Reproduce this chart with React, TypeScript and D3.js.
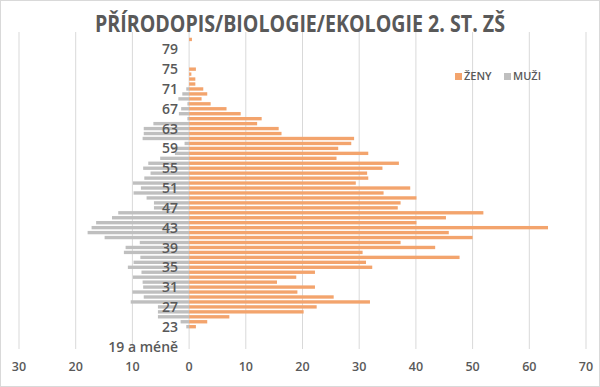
import React from 'react';
import * as d3 from 'd3';

// věkové kategorie: "19 a méně", 20 ... 82
const ages: string[] = ['19 a méně', ...d3.range(20, 83).map(String)];

const zeny: number[] = [
  0, 0, 0, 0, 1.2, 3.2, 7.1, 20.2, 22.5, 31.9,
  25.5, 19.1, 22.2, 15.5, 18.9, 22.2, 32.3, 31.2, 47.7, 30.6,
  43.4, 37.3, 50.0, 45.8, 63.3, 40.1, 45.3, 51.9, 36.8, 37.3,
  40.1, 34.3, 39.0, 29.4, 31.6, 31.4, 34.1, 37.0, 26.0, 31.6,
  26.3, 28.6, 29.1, 16.3, 15.8, 12.0, 12.8, 9.1, 6.6, 3.8,
  2.2, 3.2, 2.5, 1.1, 1.1, 0.4, 1.2, 0, 0, 0,
  0, 0, 0.5, 0,
];

const muzi: number[] = [
  0, 0, 0, 0, 0.5, 1.5, 5.5, 5.5, 5.5, 10.3,
  8.0, 10.0, 8.1, 8.2, 9.9, 8.4, 10.8, 9.8, 8.6, 11.5,
  11.2, 8.7, 14.9, 17.9, 17.2, 16.4, 13.6, 12.5, 6.2, 6.2,
  7.5, 9.8, 8.5, 9.9, 7.9, 6.8, 8.1, 7.2, 5.1, 2.5,
  3.0, 0.8, 8.2, 8.0, 8.0, 6.3, 0.3, 1.8, 1.4, 0.3,
  1.9, 1.2, 0.5, 0, 0, 0, 0, 0, 0, 0,
  0, 0, 0, 0,
];

const xTicks: number[] = [-30, -20, -10, 0, 10, 20, 30, 40, 50, 60, 70];

const title = 'PŘÍRODOPIS/BIOLOGIE/EKOLOGIE 2. ST. ZŠ';
const W = 600, H = 387;
const ORANGE = '#F3A46D';
const GREY = '#BFBFBF';
const TEXT = '#595959';
const FONT = '"Open Sans", "Noto Sans", sans-serif';

const App: React.FC = () => {
  const x = d3.scaleLinear().domain([-30, 70]).range([19, 586]);
  const y = d3.scaleBand<string>()
    .domain([...ages].reverse())
    .range([32, 349])
    .paddingInner(0.32)
    .paddingOuter(0.16);

  return (
    <svg width={W} height={H} style={{ position: 'absolute', left: 0, top: 0, background: '#fff' }}>
      <rect x={0.5} y={0.5} width={W - 1} height={H - 1} fill="#fff" stroke="#d9d9d9" />
      <text x={300} y={32} textAnchor="middle" fill={TEXT} fontFamily={FONT}
        fontWeight={700} fontSize={23} textLength={410} lengthAdjust="spacingAndGlyphs">{title}</text>

      {/* mřížka */}
      {xTicks.map(t => (
        <line key={'g' + t} x1={x(t)} x2={x(t)} y1={32} y2={349} stroke="#d9d9d9" strokeWidth={1} />
      ))}

      {/* muži vlevo */}
      {ages.map((a, i) => (
        <rect key={'m' + a} x={x(-muzi[i])} y={y(a)} width={x(0) - x(-muzi[i])}
          height={y.bandwidth()} fill={GREY} />
      ))}
      {/* ženy vpravo */}
      {ages.map((a, i) => (
        <rect key={'z' + a} x={x(0)} y={y(a)} width={x(zeny[i]) - x(0)}
          height={y.bandwidth()} fill={ORANGE} />
      ))}

      {/* popisky věku */}
      {ages.filter((_, i) => i % 4 === 0).map(a => (
        <text key={'l' + a} x={x(0) - 11} y={(y(a) || 0) + y.bandwidth() / 2} dy="0.36em"
          textAnchor="end" fill={TEXT} fontFamily={FONT} fontWeight={600} fontSize={14}>{a}</text>
      ))}

      {/* osa x */}
      {xTicks.map(t => (
        <text key={'t' + t} x={x(t)} y={371} textAnchor="middle" fill={TEXT}
          fontFamily={FONT} fontWeight={600} fontSize={12.5}>{Math.abs(t)}</text>
      ))}

      {/* legenda */}
      <rect x={455} y={73} width={7} height={7} fill={ORANGE} />
      <text x={464} y={80} fill={TEXT} fontFamily={FONT} fontWeight={600} fontSize={11}>ŽENY</text>
      <rect x={504} y={73} width={7} height={7} fill={GREY} />
      <text x={513} y={80} fill={TEXT} fontFamily={FONT} fontWeight={600} fontSize={11}>MUŽI</text>
    </svg>
  );
};

export default App;
